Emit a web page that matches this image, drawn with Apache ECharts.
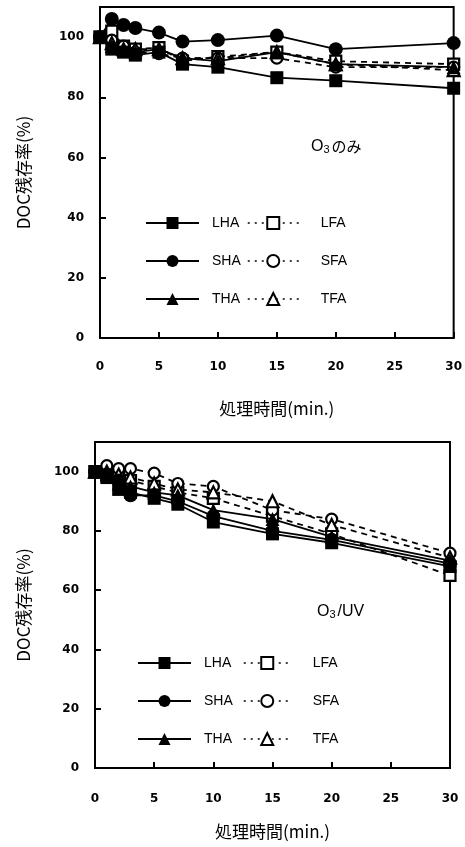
<!DOCTYPE html>
<html><head><meta charset="utf-8">
<script src="https://cdn.jsdelivr.net/npm/echarts@6/dist/echarts.min.js"></script>
<style>html,body{margin:0;padding:0;background:#fff}#c{width:465px;height:847px}</style>
</head><body><div id="c"></div>
<script>
// x values (min.)
const times = [0, 1, 2, 3, 5, 7, 10, 15, 20, 30];
const yTicks = [0, 20, 40, 60, 80, 100];
const xTicks = [0, 5, 10, 15, 20, 25, 30];
const seriesNames = ['LHA', 'SHA', 'THA', 'LFA', 'SFA', 'TFA'];

// O3 only (top)
const o3_LHA = [100, 96, 95, 94, 95, 91, 90, 86.5, 85.5, 83];
const o3_SHA = [100, 106, 104, 103, 101.5, 98.5, 99, 100.5, 96, 98];
const o3_THA = [100, 97, 96, 95, 96, 93, 92, 95, 91, 90];
const o3_LFA = [100, 102, 97, 96, 96.5, 92, 93.5, 95, 92, 91];
const o3_SFA = [100, 99, 97, 95, 94.5, 93, 93, 93, 90, 90];
const o3_TFA = [100, 98, 96, 96, 96, 93, 93, 95, 91, 89];

// O3/UV (bottom)
const uv_LHA = [100, 98, 94, 93, 91, 89, 83, 79, 76, 68];
const uv_SHA = [100, 99, 97, 92, 92, 90, 85, 80, 77, 69];
const uv_THA = [100, 99, 96, 95, 93, 92, 87, 84, 78, 70];
const uv_LFA = [100, 99, 98, 97, 95, 93, 91, 85, 79, 65];
const uv_SFA = [100, 102, 101, 101, 99.5, 96, 95, 87, 84, 72.5];
const uv_TFA = [100, 100, 99, 98, 96, 94, 93, 90, 82, 71];

const topData = [o3_LHA, o3_SHA, o3_THA, o3_LFA, o3_SFA, o3_TFA];
const botData = [uv_LHA, uv_SHA, uv_THA, uv_LFA, uv_SFA, uv_TFA];

const symbols = ['rect', 'circle', 'triangle', 'rect', 'circle', 'triangle'];
const symSizes = [13, 14, 14, 11, 11, 12];

function pairs(arr) { return times.map((t, i) => [t, arr[i]]); }

function mkSeries(dataSets, gi) {
  return dataSets.map((d, k) => {
    const open = k >= 3;
    return {
      name: seriesNames[k], type: 'line',
      xAxisIndex: gi, yAxisIndex: gi,
      data: pairs(d),
      symbol: symbols[k], symbolSize: symSizes[k],
      z: open ? 3 : 4,
      lineStyle: { color: '#000', width: 1.8, type: open ? [6, 5] : 'solid' },
      itemStyle: open ? { color: '#fff', borderColor: '#000', borderWidth: 2.2 } : { color: '#000', borderColor: '#000', borderWidth: 0 },
      emphasis: { disabled: true },
      animation: false
    };
  });
}

const tickFont = { fontFamily: 'DejaVu Sans', fontWeight: 'bold', fontSize: 12, color: '#000' };
const nameFont = { fontFamily: 'Noto Sans CJK JP', fontSize: 17, color: '#000' };

function xAx(gi, margin, gap) {
  return {
    type: 'value', gridIndex: gi, min: 0, max: 30, interval: 5,
    axisLine: { show: true, lineStyle: { color: '#000', width: 2 } },
    axisTick: { show: true, inside: true, length: 6, lineStyle: { color: '#000', width: 2 } },
    axisLabel: Object.assign({ margin: margin, formatter: v => xTicks.includes(v) ? String(v) : '' }, tickFont),
    splitLine: { show: false },
    name: '処理時間(min.)', nameLocation: 'middle', nameGap: gap, nameTextStyle: nameFont
  };
}
function yAx(gi, gap) {
  return {
    type: 'value', gridIndex: gi, min: 0, max: 110, interval: 20,
    axisLine: { show: true, lineStyle: { color: '#000', width: 2 } },
    axisTick: { show: true, inside: true, length: 6, lineStyle: { color: '#000', width: 2 } },
    axisLabel: Object.assign({ margin: 16, showMaxLabel: false, formatter: v => yTicks.includes(v) ? String(v) : '' }, tickFont),
    splitLine: { show: false },
    name: 'DOC残存率(%)', nameLocation: 'middle', nameGap: gap, nameTextStyle: nameFont
  };
}

const legText = { fontFamily: 'Liberation Sans', fontSize: 14, color: '#000' };
function legend(left, top, names, w, pad, dotted) {
  const o = {
    left: left, top: top, orient: 'vertical', padding: 0,
    itemWidth: w, itemHeight: 15, itemGap: 24,
    data: names, selectedMode: false,
    textStyle: Object.assign({ padding: [0, 0, 0, pad] }, legText)
  };
  if (dotted) o.lineStyle = { type: [2, 5], width: 1.5 };
  return o;
}

const rich = {
  n: { fontFamily: 'Liberation Sans', fontSize: 16, fontWeight: 'normal', color: '#000' },
  j: { fontFamily: 'Noto Sans CJK JP', fontSize: 15, fontWeight: 'normal', color: '#000' },
  s: { fontFamily: 'Liberation Sans', fontSize: 11, fontWeight: 'normal', color: '#000', padding: [6, 2, 0, 0] }
};

const chart = echarts.init(document.getElementById('c'), null, { renderer: 'canvas' });
chart.setOption({
  backgroundColor: '#fff',
  animation: false,
  grid: [
    { left: 100, top: 7, width: 355, height: 331, show: true, borderColor: '#000', borderWidth: 2, backgroundColor: 'transparent' },
    { left: 95, top: 442, width: 355, height: 326, show: true, borderColor: '#000', borderWidth: 2, backgroundColor: 'transparent' }
  ],
  xAxis: [xAx(0, 23, 62), xAx(1, 25, 55)],
  yAxis: [yAx(0, 68), yAx(1, 63)],
  title: [
    { text: '{n|O}{s|3}{j|のみ}', left: 306, top: 133, textStyle: { fontWeight: 'normal', rich: rich } },
    { text: '{n|O}{s|3}{n|/UV}', left: 312, top: 598, textStyle: { fontWeight: 'normal', rich: rich } }
  ],
  legend: [
    legend(145, 216, ['LHA', 'SHA', 'THA'], 53, 8, false),
    legend(247, 216, ['LFA', 'SFA', 'TFA'], 51, 17, true),
    legend(137, 656, ['LHA', 'SHA', 'THA'], 53, 8, false),
    legend(243, 656, ['LFA', 'SFA', 'TFA'], 47, 17, true)
  ],
  series: mkSeries(topData, 0).concat(mkSeries(botData, 1))
});
</script></body></html>
